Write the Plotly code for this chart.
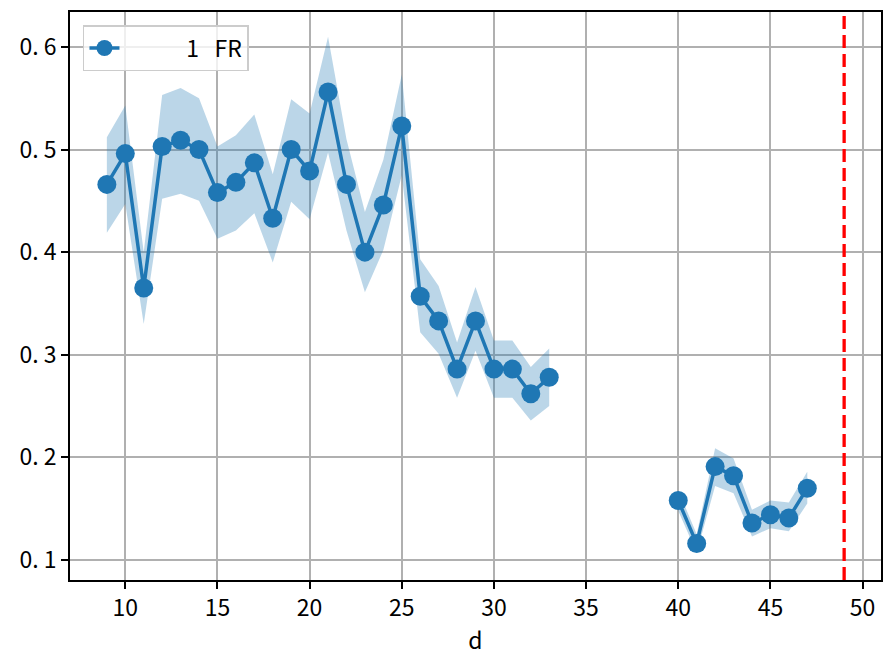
import plotly.graph_objects as go

# data
d = [9, 10, 11, 12, 13, 14, 15, 16, 17, 18, 19, 20, 21, 22, 23, 24, 25,
     26, 27, 28, 29, 30, 31, 32, 33, 34, 35, 36, 37, 38, 39,
     40, 41, 42, 43, 44, 45, 46, 47]
fr = [0.466, 0.496, 0.365, 0.503, 0.509, 0.500, 0.458, 0.468, 0.487, 0.433,
      0.500, 0.479, 0.556, 0.466, 0.400, 0.446, 0.523,
      0.357, 0.333, 0.286, 0.333, 0.286, 0.286, 0.262, 0.278,
      None, None, None, None, None, None,
      0.158, 0.116, 0.191, 0.182, 0.136, 0.144, 0.141, 0.170]
upper = [0.512, 0.543, 0.400, 0.553, 0.560, 0.550, 0.503, 0.514, 0.534, 0.476,
         0.549, 0.535, 0.610, 0.510, 0.439, 0.490, 0.573,
         0.393, 0.367, 0.312, 0.366, 0.314, 0.314, 0.288, 0.306,
         None, None, None, None, None, None,
         0.168, 0.125, 0.209, 0.199, 0.149, 0.158, 0.156, 0.186]
lower = [0.419, 0.447, 0.330, 0.452, 0.457, 0.450, 0.413, 0.421, 0.438, 0.390,
         0.449, 0.432, 0.497, 0.421, 0.361, 0.402, 0.475,
         0.322, 0.301, 0.258, 0.304, 0.258, 0.258, 0.236, 0.250,
         None, None, None, None, None, None,
         0.148, 0.107, 0.172, 0.165, 0.123, 0.131, 0.128, 0.155]
vline_x = 49
series_name = "1\u00a0\u00a0\u00a0FR"
x_ticks = [10, 15, 20, 25, 30, 35, 40, 45, 50]
y_ticks = [0.1, 0.2, 0.3, 0.4, 0.5, 0.6]
y_ticktext = ["0. 1", "0. 2", "0. 3", "0. 4", "0. 5", "0. 6"]

BLUE = "#1f77b4"
FONT = "Noto Sans CJK JP"
FS = 23

fig = go.Figure()

# shaded band, one polygon per contiguous segment
segs = []
cur = []
for i, v in enumerate(fr):
    if v is None:
        if cur:
            segs.append(cur)
            cur = []
    else:
        cur.append(i)
if cur:
    segs.append(cur)
for seg in segs:
    xs = [d[i] for i in seg] + [d[i] for i in reversed(seg)]
    ys = [upper[i] for i in seg] + [lower[i] for i in reversed(seg)]
    fig.add_trace(go.Scatter(x=xs, y=ys, fill="toself", mode="none",
                             fillcolor="rgba(31,119,180,0.3)",
                             hoverinfo="skip", showlegend=False))

fig.add_trace(go.Scatter(x=d, y=fr, mode="lines+markers",
                         name="\u00a0" * 12 + series_name,
                         line=dict(color=BLUE, width=3.5),
                         marker=dict(color=BLUE, size=19),
                         connectgaps=False))

fig.add_shape(type="line", x0=vline_x, x1=vline_x, y0=0, y1=1,
              xref="x", yref="paper",
              line=dict(color="red", width=3.3, dash="13px,6px"))

axis_common = dict(showgrid=True, gridcolor="#b0b0b0", gridwidth=1.6,
                   showline=True, linecolor="black", linewidth=1.6, mirror=True,
                   ticks="outside", ticklen=7, tickwidth=1.6, tickcolor="black",
                   zeroline=False, automargin=False,
                   tickfont=dict(family=FONT, size=FS, color="black"))

fig.update_xaxes(range=[7, 51], tickvals=x_ticks,
                 title=dict(text="d", font=dict(family=FONT, size=FS, color="black"),
                            standoff=6),
                 **axis_common)
fig.update_yaxes(range=[0.0805, 0.634], tickvals=y_ticks, ticktext=y_ticktext,
                 **axis_common)

fig.update_layout(
    width=883, height=656,
    margin=dict(l=70, r=2, t=12, b=76),
    paper_bgcolor="white", plot_bgcolor="white",
    font=dict(family=FONT, color="black"),
    legend=dict(x=0.016, y=0.977, xanchor="left", yanchor="top",
                bgcolor="rgba(255,255,255,0.8)", bordercolor="#cccccc",
                borderwidth=1.5, font=dict(family=FONT, size=FS, color="black")),
)

fig.write_html("out.html",
               config={"displayModeBar": False},
               post_script="document.body.style.margin='0px';"
                           "document.body.style.overflow='hidden';")
